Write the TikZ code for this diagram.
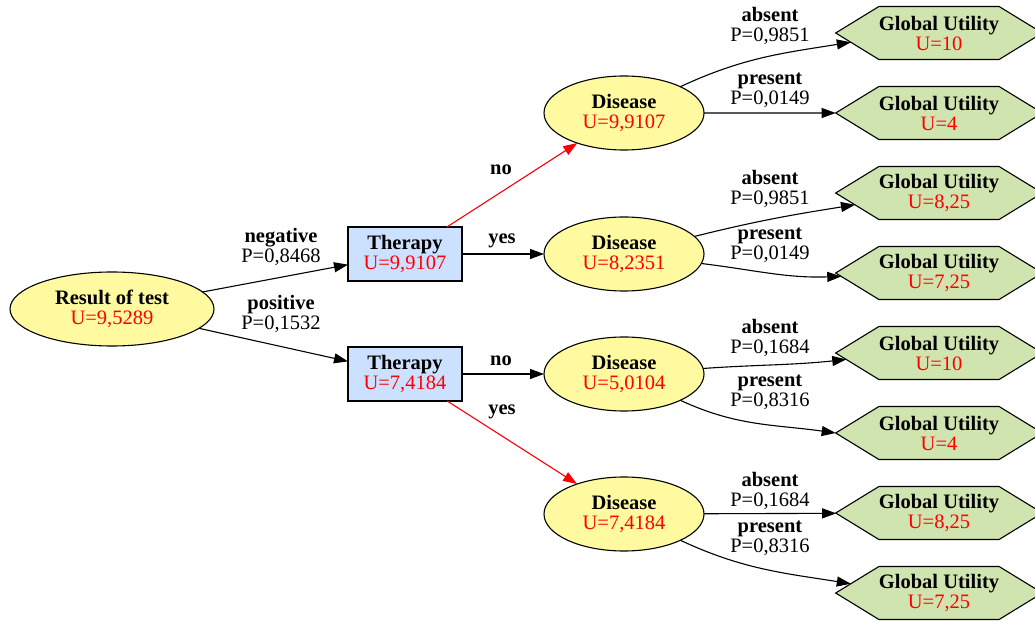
\documentclass[tikz,border=0pt]{standalone}
\usepackage{fontspec}
\setmainfont{Liberation Serif}
\usetikzlibrary{shapes.geometric,shapes.symbols,arrows.meta}
\definecolor{chancefill}{RGB}{255,250,160}
\definecolor{decfill}{RGB}{204,224,255}
\definecolor{utilfill}{RGB}{208,228,176}

\begin{document}
\begin{tikzpicture}[x=1pt,y=1pt,
  base/.style={draw=black, line width=1.1pt, font=\fontsize{20.5}{20}\selectfont,
    align=center, inner sep=0pt, outer sep=0pt},
  chance/.style={base, ellipse, fill=chancefill, minimum width=160pt, minimum height=74pt},
  decision/.style={base, rectangle, fill=decfill, minimum width=114pt, minimum height=54pt},
  utility/.style={base, signal, signal to=east and west, signal pointer angle=63,
    fill=utilfill, minimum width=199pt, minimum height=53pt},
  edgelabel/.style={font=\fontsize{20.5}{20}\selectfont, align=center, inner sep=0pt},
  arc/.style={line width=1.1pt, -{Triangle[length=14pt,width=10pt]}},
  best/.style={arc, color=red}
]
\useasboundingbox (0,0) rectangle (1035,621);
\clip (0,0) rectangle (1035,621);

% root chance node
\node[chance, minimum width=204pt] (res) at (112,312)
  {\textbf{Result of test}\\\textcolor{red}{U=9,5289}};

% therapy decisions
\node[decision] (th1) at (405,367) {\textbf{Therapy}\\\textcolor{red}{U=9,9107}};
\node[decision] (th2) at (405,247) {\textbf{Therapy}\\\textcolor{red}{U=7,4184}};

% disease chance nodes
\node[chance] (d1) at (624,508) {\textbf{Disease}\\\textcolor{red}{U=9,9107}};
\node[chance] (d2) at (624,367) {\textbf{Disease}\\\textcolor{red}{U=8,2351}};
\node[chance] (d3) at (624,247) {\textbf{Disease}\\\textcolor{red}{U=5,0104}};
\node[chance] (d4) at (624,107) {\textbf{Disease}\\\textcolor{red}{U=7,4184}};

% utility leaves
\node[utility] (g1) at (939,588) {\textbf{Global Utility}\\\textcolor{red}{U=10}};
\node[utility] (g2) at (939,508) {\textbf{Global Utility}\\\textcolor{red}{U=4}};
\node[utility] (g3) at (939,428) {\textbf{Global Utility}\\\textcolor{red}{U=8,25}};
\node[utility] (g4) at (939,348) {\textbf{Global Utility}\\\textcolor{red}{U=7,25}};
\node[utility] (g5) at (939,268) {\textbf{Global Utility}\\\textcolor{red}{U=10}};
\node[utility] (g6) at (939,188) {\textbf{Global Utility}\\\textcolor{red}{U=4}};
\node[utility] (g7) at (939,108) {\textbf{Global Utility}\\\textcolor{red}{U=8,25}};
\node[utility] (g8) at (939,28)  {\textbf{Global Utility}\\\textcolor{red}{U=7,25}};

% connectors
\draw[arc] (res) -- (th1);
\draw[arc] (res) -- (th2);
\draw[best] (th1) -- (d1);
\draw[arc] (th1) -- (d2);
\draw[arc] (th2) -- (d3);
\draw[best] (th2) -- (d4);

\draw[arc] (d1) to[out=25, in=189] (g1.186);
\draw[arc] (d1) -- (g2);
\draw[arc] (d2) to[out=14, in=189] (g3.188);
\draw[arc] (d2) to[out=-7, in=182] (g4.182);
\draw[arc] (d3) to[out=4, in=186] (g5.184);
\draw[arc] (d3) to[out=-25, in=172] (g6.180);
\draw[arc] (d4) -- (g7);
\draw[arc] (d4) to[out=-25, in=171] (g8.174);

% branch labels
\node[edgelabel] (lneg) at (281,374) {\textbf{negative}\\P=0,8468};
\node[edgelabel] (lpos) at (281,307) {\textbf{positive}\\P=0,1532};
\node[edgelabel] (lno1) at (501,451) {\textbf{no}};
\node[edgelabel] (lyes1) at (502,380) {\textbf{yes}};
\node[edgelabel] (lno2) at (501,260) {\textbf{no}};
\node[edgelabel] (lyes2) at (502,209) {\textbf{yes}};

\node[edgelabel] (la1) at (770,595.5) {\textbf{absent}\\P=0,9851};
\node[edgelabel] (lp1) at (770,530.5) {\textbf{present}\\P=0,0149};
\node[edgelabel] (la2) at (770,432.5) {\textbf{absent}\\P=0,9851};
\node[edgelabel] (lp2) at (770,375.5) {\textbf{present}\\P=0,0149};
\node[edgelabel] (la3) at (770,283) {\textbf{absent}\\P=0,1684};
\node[edgelabel] (lp3) at (770,229) {\textbf{present}\\P=0,8316};
\node[edgelabel] (la4) at (770,130) {\textbf{absent}\\P=0,1684};
\node[edgelabel] (lp4) at (770,83) {\textbf{present}\\P=0,8316};
\end{tikzpicture}
\end{document}
